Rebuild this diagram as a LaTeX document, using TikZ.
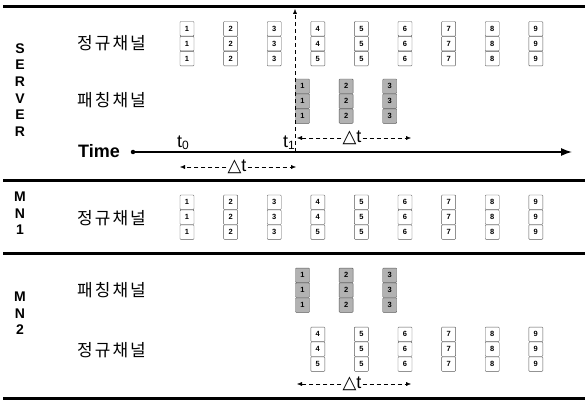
\documentclass[tikz,border=0pt]{standalone}
\usepackage{fontspec}
\setmainfont{Liberation Sans}
\newfontfamily\kofont[LetterSpace=12]{Noto Sans CJK KR}
\newfontfamily\symfont{DejaVu Sans}
\usetikzlibrary{arrows.meta,positioning}

\tikzset{
  cell/.style={draw=black!65, rounded corners=0.8pt, minimum width=14pt, minimum height=14.5pt,
    inner sep=0pt, font=\fontsize{7.5}{7.5}\selectfont\bfseries},
  regcell/.style={cell, fill=white},
  patchcell/.style={cell, fill=black!30},
  chan/.style={font=\kofont\fontsize{17}{17}\selectfont, anchor=west, inner sep=0pt},
  side/.style={font=\fontsize{14}{16.6}\selectfont\bfseries, align=center, inner sep=0pt},
  sepline/.style={line width=3pt},
  dtarrow/.style={dash pattern=on 4pt off 3pt, -{Latex[length=5pt,width=4pt]}},
  dtlabel/.style={inner sep=1pt, font=\fontsize{18}{18}\selectfont},
}

% three cells stacked: name, x, y of top cell, style, labels
\newcommand{\cellstack}[7]{%
  \node[#4] (#1a) at ({#2},{#3}) {#5};
  \node[#4, below=0pt of #1a] (#1b) {#6};
  \node[#4, below=0pt of #1b] (#1c) {#7};
}
\newcommand{\dt}{{\symfont\fontsize{18}{18}\selectfont\char"25B3}t}

\begin{document}
\begin{tikzpicture}[x=1pt,y=-1pt]
  \useasboundingbox (0,0) rectangle (585,403);

  % separators
  \draw[sepline] (3,7) -- (585,7);
  \draw[sepline] (3,181) -- (585,181);
  \draw[sepline] (3,253) -- (585,253);
  \draw[sepline] (3,398) -- (585,398);

  % side labels
  \node[side] (server) at (20,90) {S\\E\\R\\V\\E\\R};
  \node[side] (mn1) at (20,213.5) {M\\N\\1};
  \node[side] (mn2) at (20,313.5) {M\\N\\2};

  % channel names
  \node[chan] (srvreg) at (77,43) {정규채널};
  \node[chan] (srvpatch) at (77,100) {패칭채널};
  \node[chan] (mn1reg) at (77,218) {정규채널};
  \node[chan] (mn2patch) at (77,290) {패칭채널};
  \node[chan] (mn2reg) at (77,350) {정규채널};

  % regular channels
  \foreach \i/\c in {1/1,2/2,3/3,4/5,5/5,6/6,7/7,8/8,9/9} {
    \cellstack{sr\i}{187+43.6*(\i-1)}{28.8}{regcell}{\i}{\i}{\c}
    \cellstack{ma\i}{187+43.6*(\i-1)}{202.3}{regcell}{\i}{\i}{\c}
  }
  \foreach \i/\c in {4/5,5/5,6/6,7/7,8/8,9/9} {
    \cellstack{mb\i}{187+43.6*(\i-1)}{334.3}{regcell}{\i}{\i}{\c}
  }
  % patching channels
  \foreach \i in {1,2,3} {
    \cellstack{sp\i}{302.5+43.6*(\i-1)}{86.3}{patchcell}{\i}{\i}{\i}
    \cellstack{mp\i}{302.5+43.6*(\i-1)}{275.3}{patchcell}{\i}{\i}{\i}
  }

  % time axis
  \node[font=\fontsize{18}{18}\selectfont\bfseries, anchor=base west, inner sep=0pt] (timelbl) at (78,158) {Time};
  \node[circle, fill, inner sep=0pt, minimum size=4.5pt] (origin) at (133,152) {};
  \coordinate (tend) at (572,152);
  \draw[line width=1.3pt, -{Latex[length=11pt,width=8pt]}] (origin) -- (tend);
  \node[font=\fontsize{18}{18}\selectfont, anchor=base west, inner sep=0pt] (t0) at (177,148)
    {t\raisebox{-1.5pt}{\fontsize{12}{12}\selectfont 0}};
  \node[font=\fontsize{18}{18}\selectfont, anchor=base west, inner sep=0pt] (t1) at (283,148)
    {t\raisebox{-1.5pt}{\fontsize{12}{12}\selectfont 1}};

  % t1 marker
  \coordinate (mbot) at (295,152);
  \coordinate (mtop) at (295,9);
  \draw[dash pattern=on 4pt off 3pt, -{Latex[length=5pt,width=4pt]}] (mbot) -- (mtop);

  % delta t
  \node[dtlabel] (dta) at (237,167) {\dt};
  \coordinate (dtal) at (180,167);
  \coordinate (dtar) at (296,167);
  \draw[dtarrow] (dta.west) -- (dtal);
  \draw[dtarrow] (dta.east) -- (dtar);

  \node[dtlabel] (dtb) at (352,138) {\dt};
  \coordinate (dtbl) at (297,138);
  \coordinate (dtbr) at (411,138);
  \draw[dtarrow] (dtb.west) -- (dtbl);
  \draw[dtarrow] (dtb.east) -- (dtbr);

  \node[dtlabel] (dtc) at (352,384) {\dt};
  \coordinate (dtcl) at (297,384);
  \coordinate (dtcr) at (411,384);
  \draw[dtarrow] (dtc.west) -- (dtcl);
  \draw[dtarrow] (dtc.east) -- (dtcr);
\end{tikzpicture}
\end{document}
